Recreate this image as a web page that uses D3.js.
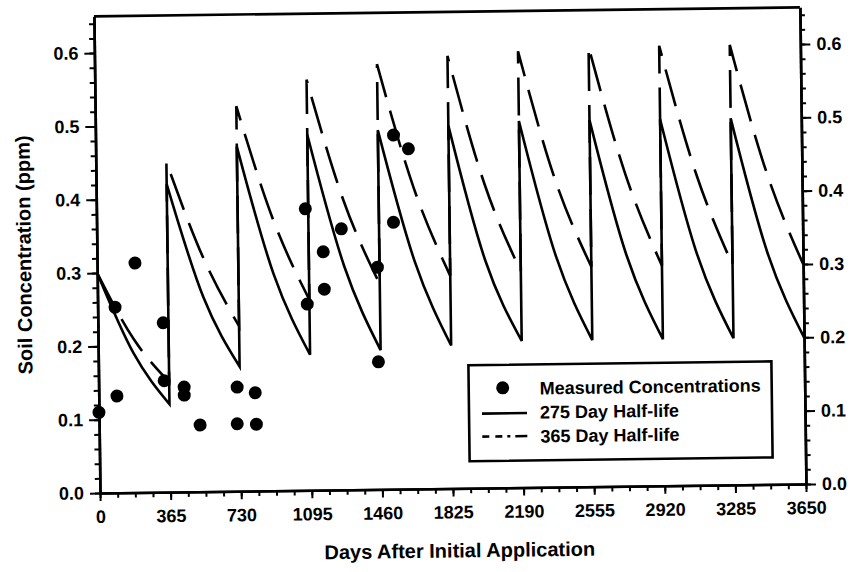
<!DOCTYPE html>
<html>
<head>
<meta charset="utf-8">
<script src="https://cdn.jsdelivr.net/npm/d3@7"></script>
<style>
	body { margin: 0; background: #fff; }
	text { font-family: "Liberation Sans", Arial, sans-serif; font-weight: bold; fill: #000; }
</style>
</head>
<body>
<div id="chart"></div>
<script>
var width = 855;
var height = 572;

// application days (one dose per year)
var yearStarts = [0, 365, 730, 1095, 1460, 1825, 2190, 2555, 2920, 3285];
var xTickLabels = [0, 365, 730, 1095, 1460, 1825, 2190, 2555, 2920, 3285, 3650];
var yTickLabels = [0.0, 0.1, 0.2, 0.3, 0.4, 0.5, 0.6];

// 275 day half-life: value just after application, half way through the year, just before next application
var peak275   = [0.30, 0.42, 0.47, 0.485, 0.49, 0.495, 0.50, 0.50, 0.50, 0.50];
var mid275    = [0.19, 0.265, 0.295, 0.305, 0.31, 0.31, 0.315, 0.315, 0.315, 0.315];
var trough275 = [0.12, 0.17, 0.185, 0.19, 0.195, 0.20, 0.20, 0.20, 0.20, 0.20];

// 365 day half-life
var peak365   = [0.30, 0.45, 0.525, 0.56, 0.58, 0.59, 0.595, 0.60, 0.60, 0.60];
var mid365    = [0.21, 0.32, 0.37, 0.395, 0.41, 0.415, 0.42, 0.425, 0.425, 0.425];
var trough365 = [0.15, 0.225, 0.26, 0.28, 0.29, 0.295, 0.30, 0.30, 0.30, 0.30];

// measured concentrations
var measuredDays = [0, 94, 90, 196, 338, 339, 442, 442, 522, 716, 714, 809, 813,
	1080, 1084, 1170, 1173, 1265, 1449, 1448, 1535, 1541, 1617];
var measuredPpm = [0.110, 0.132, 0.253, 0.313, 0.231, 0.152, 0.143, 0.132, 0.091, 0.142, 0.092, 0.134, 0.091,
	0.384, 0.254, 0.325, 0.274, 0.356, 0.303, 0.174, 0.364, 0.483, 0.464];

var svg = d3.select("#chart")
	.append("svg")
		.attr("width", width)
		.attr("height", height)
	;

svg.append("rect")
	.attr("width", width)
	.attr("height", height)
	.attr("fill", "#fff");

// the scanned figure is slightly tilted
var g = svg.append("g")
	.attr("transform", "rotate(-0.73, 100, 493)");

var x = d3.scaleLinear().domain([0, 3650]).range([100, 806]);
var y = d3.scaleLinear().domain([0, 0.65]).range([493, 16.35]);

// minor ticks
var xMinor = d3.range(0, 3650.1, 91.25);
var yMinor = d3.range(0, 0.651, 0.02);

function styleAxis(sel) {
	sel.select(".domain").attr("stroke-width", 2.6);
	sel.selectAll("line").attr("stroke-width", 2);
	sel.selectAll("text")
		.attr("font-size", 18)
		.attr("font-family", null);
}

g.append("g")
	.attr("transform", "translate(0," + y(0) + ")")
	.call(d3.axisBottom(x).tickValues(xMinor).tickSize(5).tickSizeOuter(0).tickFormat(""))
	.call(styleAxis);

g.append("g")
	.attr("transform", "translate(0," + y(0) + ")")
	.call(d3.axisBottom(x).tickValues(xTickLabels).tickSize(8).tickSizeOuter(0).tickFormat(d3.format("d")))
	.call(styleAxis)
	.call(s => s.selectAll("text").attr("y", 30).attr("dy", null));

[[d3.axisLeft, x(0), -16, "end"], [d3.axisRight, x(3650), 16, "start"]].forEach(function (a) {
	g.append("g")
		.attr("transform", "translate(" + a[1] + ",0)")
		.call(a[0](y).tickValues(yMinor).tickSize(5).tickSizeOuter(0).tickFormat(""))
		.call(styleAxis);
	g.append("g")
		.attr("transform", "translate(" + a[1] + ",0)")
		.call(a[0](y).tickValues(yTickLabels).tickSize(10).tickSizeOuter(0).tickFormat(d3.format(".1f")))
		.call(styleAxis)
		.call(s => s.selectAll("text").attr("x", a[2]).attr("text-anchor", a[3]));
});

// top frame line
g.append("line")
	.attr("x1", x(0)).attr("x2", x(3650))
	.attr("y1", y(0.65)).attr("y2", y(0.65))
	.attr("stroke", "#000")
	.attr("stroke-width", 2.6);

// sawtooth: one smooth decay per year, joined by vertical jumps
var decay = d3.line()
	.x(d => x(d[0]))
	.y(d => y(d[1]))
	.curve(d3.curveNatural);

function sawtooth(peaks, mids, troughs) {
	return yearStarts.map(function (s, i) {
		var seg = decay([[s, peaks[i]], [s + 182.5, mids[i]], [s + 365, troughs[i]]]);
		return i === 0 ? seg : "L" + seg.slice(1);
	}).join("");
}

g.append("path")
	.attr("d", sawtooth(peak365, mid365, trough365))
	.attr("fill", "none")
	.attr("stroke", "#000")
	.attr("stroke-width", 2.6)
	.attr("stroke-dasharray", "38,14");

g.append("path")
	.attr("d", sawtooth(peak275, mid275, trough275))
	.attr("fill", "none")
	.attr("stroke", "#000")
	.attr("stroke-width", 2.6);

g.selectAll("circle.measured")
	.data(measuredDays)
	.enter()
	.append("circle")
		.attr("class", "measured")
		.attr("cx", d => x(d))
		.attr("cy", (d, i) => y(measuredPpm[i]))
		.attr("r", 6.5)
		.attr("fill", "#000");

// legend
var legend = g.append("g");
legend.append("rect")
	.attr("x", 470).attr("y", 370)
	.attr("width", 303).attr("height", 96)
	.attr("fill", "#fff")
	.attr("stroke", "#000")
	.attr("stroke-width", 2.6);
legend.append("circle")
	.attr("cx", 504).attr("cy", 393)
	.attr("r", 6.5)
	.attr("fill", "#000");
legend.append("line")
	.attr("x1", 483).attr("x2", 528)
	.attr("y1", 418.5).attr("y2", 418.5)
	.attr("stroke", "#000").attr("stroke-width", 2.6);
legend.append("line")
	.attr("x1", 483).attr("x2", 528)
	.attr("y1", 441.5).attr("y2", 441.5)
	.attr("stroke", "#000").attr("stroke-width", 2.6)
	.attr("stroke-dasharray", "7,6,7,5,3,5,13");
legend.selectAll("text")
	.data(["Measured Concentrations", "275 Day Half-life", "365 Day Half-life"])
	.enter()
	.append("text")
		.attr("x", 541)
		.attr("y", (d, i) => 400 + i * 24)
		.attr("font-size", 18)
		.text(d => d);

// axis titles
g.append("text")
	.attr("x", 459).attr("y", 562)
	.attr("text-anchor", "middle")
	.attr("font-size", 20)
	.text("Days After Initial Application");

g.append("text")
	.attr("transform", "translate(34,254) rotate(-90)")
	.attr("text-anchor", "middle")
	.attr("font-size", 20)
	.text("Soil Concentration (ppm)");
</script>
</body>
</html>
